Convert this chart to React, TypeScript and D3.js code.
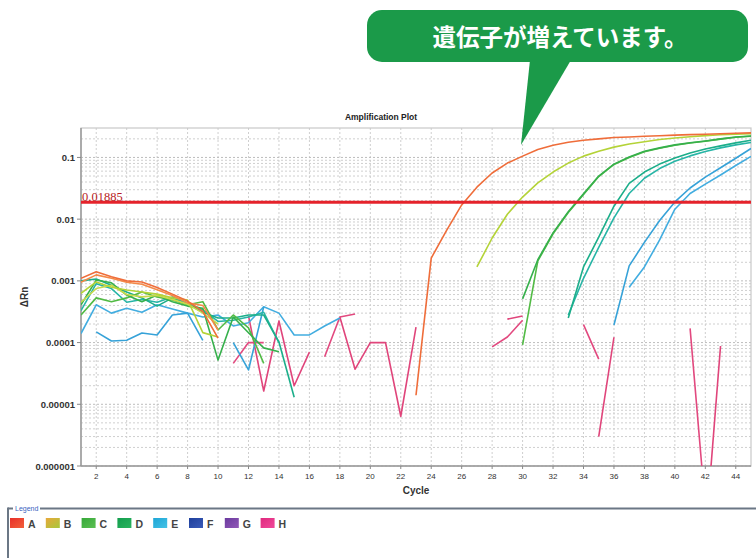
import React from "react";
import * as d3 from "d3";

const _ = null;
// cycles 1..45 (index 0 = cycle 1); null = not plotted (value <= 0)
const cycles = d3.range(1, 46);

const wellA1 = [0.0011, 0.00141, 0.00117, 0.001, 0.00096, 0.00078, 0.00061, 0.00047, 0.00032, 0.000118,
  _, _, _, _, _, _, _, _, _, _, _, _,
  1.4e-5, 0.00234, 0.0065, 0.017, 0.033, 0.056, 0.081, 0.105, 0.135, 0.158, 0.176, 0.19, 0.2, 0.21, 0.215,
  0.22, 0.225, 0.23, 0.234, 0.238, 0.242, 0.246, 0.25];
const wellA2 = [0.00095, 0.00125, 0.0011, 0.00095, 0.00088, 0.00072, 0.00058, 0.00044, 0.0004, 0.00016,
  _, _, _, _, _, _, _, _, _, _, _, _, _, _, _, _, _, _, _, _, _, _, _, _, _, _, _, _, _, _, _, _, _, _, _];
const wellB1 = [6.3e-4, 9.6e-4, 7.9e-4, 7.1e-4, 6.6e-4, 6.1e-4, 5.3e-4, 4.9e-4, 1.45e-4, 1.23e-4,
  _, _, _, _, _, _, _, _, _, _, _, _, _, _, _, _,
  0.00168, 0.00495, 0.012, 0.0228, 0.0386, 0.058, 0.081, 0.105, 0.126, 0.147, 0.165, 0.18, 0.195, 0.207,
  0.217, 0.226, 0.233, 0.238, 0.242];
const wellB2 = [4.5e-4, 7.5e-4, 8.5e-4, 6.0e-4, 5.5e-4, 5.8e-4, 5.0e-4, 4.2e-4, 3.0e-4, 2.0e-4,
  _, _, _, _, _, _, _, _, _, _, _, _, _, _, _, _, _, _, _, _, _, _, _, _, _, _, _, _, _, _, _, _, _, _, _];
const wellC1 = [4.1e-4, 1.03e-3, 9.3e-4, 5.9e-4, 4.6e-4, 5.9e-4, 4.6e-4, 3.9e-4, 3.6e-4, 5.2e-5,
  2.6e-4, 1.44e-4, 8.2e-5, 7.1e-5, _, _, _, _, _, _, _, _, _, _, _, _, _, _, _,
  5.1e-4, 0.0022, 0.006, 0.0132, 0.0257, 0.05, 0.078, 0.102, 0.126, 0.143, 0.16, 0.173, 0.185, 0.2, 0.215, 0.222];
const wellC2 = [2.8e-4, 5.3e-4, 4.6e-4, 5.3e-4, 6.6e-4, 5.5e-4, 4.9e-4, 4.1e-4, 4.6e-4, 1.6e-4,
  2.8e-4, 1.73e-4, 4.6e-5, _, _, _, _, _, _, _, _, _, _, _, _, _, _, _, _,
  9.2e-5, 0.0021, 0.0058, 0.0128, 0.025, 0.049, 0.077, 0.1, 0.124, 0.141, 0.158, 0.171, 0.183, 0.198, 0.212, 0.22];
const wellD1 = [1.0e-3, 1.07e-3, 8.5e-4, 6.6e-4, 5.3e-4, 3.9e-4, 5.3e-4, 4.2e-4, 3.1e-4, 2.5e-4,
  2.5e-4, 2.8e-4, 2.8e-4, 1.02e-4, 1.3e-5, _, _, _, _, _, _, _, _, _, _, _, _, _, _, _, _, _,
  2.5e-4, 0.00168, 0.0051, 0.0162, 0.038, 0.058, 0.078, 0.098, 0.118, 0.137, 0.154, 0.172, 0.19];
const wellD2 = [3.3e-4, 9.0e-4, 7.5e-4, 4.5e-4, 5.0e-4, 4.5e-4, 5.5e-4, 4.4e-4, 3.4e-4, 2.2e-4,
  2.3e-4, 2.6e-4, 3.1e-4, 1.0e-4, _, _, _, _, _, _, _, _, _, _, _, _, _, _, _, _, _, _,
  2.8e-4, 0.0011, 0.0035, 0.0105, 0.026, 0.046, 0.066, 0.087, 0.106, 0.125, 0.143, 0.16, 0.175];
const wellE1 = [_, 1.49e-4, 1.06e-4, 1.09e-4, 1.43e-4, 1.33e-4, 2.8e-4, 3.0e-4, 1.09e-4, _,
  1.0e-4, 3.6e-5, 3.8e-4, _, _, _, _, _, _, _, _, _, _, _, _, _, _, _, _, _, _, _, _, _, _,
  1.93e-4, 0.00175, 0.0042, 0.0095, 0.019, 0.032, 0.048, 0.068, 0.097, 0.14];
const wellE2 = [1.4e-4, 4.1e-4, 3.0e-4, 3.6e-4, 3.1e-4, 4.1e-4, 3.5e-4, 3.0e-4, 2.6e-4, 2.8e-4,
  1.86e-4, 2.1e-4, 3.8e-4, 3.0e-4, 1.33e-4, 1.33e-4, 1.86e-4, 2.5e-4, _, _, _, _, _, _, _, _, _, _, _, _, _, _, _, _, _, _,
  7.9e-4, 0.00168, 0.0046, 0.0145, 0.026, 0.037, 0.052, 0.074, 0.104];
const wellH1 = [_, _, _, _, _, _, _, _, _, _,
  4.6e-5, 1.0e-4, 1.0e-4, _, _, _, 5.9e-5, 2.6e-4, 2.9e-4, _, _, _, _, _, _, _, _,
  8.5e-5, 1.23e-4, 2.3e-4, _, _, _, 1.95e-4, 5.4e-5, _, _, _, _, _, 1.7e-4, 2.1e-7, _, _, _];
const wellH2 = [_, _, _, _, _, _, _, _, _, _, _,
  2.7e-4, 1.64e-5, 2.24e-4, 2.0e-5, 7.0e-5, _, 2.6e-4, 3.7e-5, 1.0e-4, 1.0e-4, 6.4e-6, 1.78e-4, _, _, _, _, _,
  2.4e-4, 2.7e-4, _, _, _, _, 3.0e-6, 1.22e-4, _, _, _, _, _, 6.8e-8, 8.8e-5, _, _];

const wellSeries = [
  { name: "H1", values: wellH1, color: "#e2497f" },
  { name: "H2", values: wellH2, color: "#e0457b" },
  { name: "E2", values: wellE2, color: "#42ade0" },
  { name: "E1", values: wellE1, color: "#36a2d8" },
  { name: "D2", values: wellD2, color: "#27b5a6" },
  { name: "D1", values: wellD1, color: "#1cae8a" },
  { name: "C2", values: wellC2, color: "#52bb45" },
  { name: "C1", values: wellC1, color: "#36b04c" },
  { name: "B2", values: wellB2, color: "#c9da4c" },
  { name: "B1", values: wellB1, color: "#b4d338" },
  { name: "A2", values: wellA2, color: "#f48a48" },
  { name: "A1", values: wellA1, color: "#ef6d3a" },
];

const threshold = 0.01885;
const yTicks = [0.1, 0.01, 0.001, 0.0001, 0.00001, 0.000001];
const yTickLabels = ["0.1", "0.01", "0.001", "0.0001", "0.00001", "0.000001"];
const xTicks = d3.range(2, 45, 2);

const legendLabels = ["A", "B", "C", "D", "E", "F", "G", "H"];
const legendColors = [
  ["#e8302a", "#f2603a"],
  ["#e8a83a", "#a8c83c"],
  ["#36a83a", "#5cc052"],
  ["#139e4e", "#2bb35e"],
  ["#1ea6d6", "#45c2e6"],
  ["#1e3f9c", "#3a5bb8"],
  ["#6a3a9e", "#9258b8"],
  ["#e0287e", "#f04a9a"],
];

export default function App() {
  const left = 81, right = 751, top = 128, bottom = 466;
  const x = d3.scaleLinear().domain([1, 45]).range([left, right]);
  const y = d3.scaleLog().domain([1e-6, 0.3]).range([bottom, top]);

  const minorGrid: number[] = [];
  for (let e = -6; e <= -1; e++) {
    for (let k = 2; k <= 9; k++) {
      const v = k * Math.pow(10, e);
      if (v < 0.3) minorGrid.push(v);
    }
  }

  const line = d3
    .line<[number, number | null]>()
    .defined((d) => d[1] != null && (d[1] as number) > 0)
    .x((d) => x(d[0]))
    .y((d) => y(d[1] as number));

  const ty = y(threshold);

  return (
    <svg width={756} height={558} style={{ position: "absolute", left: 0, top: 0, background: "#fff" }}
      fontFamily="'Liberation Sans', Arial, sans-serif">
      <defs>
        <clipPath id="plotClip">
          <rect x={left} y={top} width={right - left} height={bottom - top} />
        </clipPath>
        {legendColors.map((c, i) => (
          <linearGradient key={i} id={`lg${i}`} x1="0" y1="0" x2="1" y2="1">
            <stop offset="0" stopColor={c[0]} />
            <stop offset="1" stopColor={c[1]} />
          </linearGradient>
        ))}
      </defs>

      {/* title */}
      <text x={381} y={120} textAnchor="middle" fontSize={8.5} fontWeight="bold" fill="#222">Amplification Plot</text>

      {/* grid */}
      <g stroke="#cfcfcf" strokeWidth={1} strokeDasharray="2,2">
        {minorGrid.map((v, i) => (
          <line key={"m" + i} x1={left} x2={right} y1={y(v)} y2={y(v)} />
        ))}
        {xTicks.map((c) => (
          <line key={"v" + c} x1={x(c)} x2={x(c)} y1={top} y2={bottom} />
        ))}
      </g>
      <g stroke="#bdbdbd" strokeWidth={1} strokeDasharray="2,2">
        {yTicks.map((v) => (
          <line key={"M" + v} x1={left} x2={right} y1={y(v)} y2={y(v)} />
        ))}
      </g>

      {/* frame */}
      <rect x={left} y={top} width={right - left} height={bottom - top} fill="none" stroke="#c8c8c8" strokeWidth={1.2} />
      <line x1={left} x2={left} y1={top} y2={bottom} stroke="#9a9a9a" strokeWidth={1.5} />
      <line x1={left} x2={right} y1={bottom} y2={bottom} stroke="#9a9a9a" strokeWidth={1.5} />

      {/* curves */}
      <g clipPath="url(#plotClip)" fill="none" strokeWidth={1.6} strokeLinejoin="round">
        {wellSeries.map((s) => (
          <path key={s.name} d={line(cycles.map((c, i) => [c, s.values[i]] as [number, number | null])) || ""} stroke={s.color} />
        ))}
      </g>

      {/* threshold */}
      <line x1={left} x2={right} y1={ty} y2={ty} stroke="#e5232b" strokeWidth={3} />
      <text x={82} y={ty - 1.5} fontFamily="'Liberation Serif', 'DejaVu Serif', serif" fontSize={12.5} fill="#b81c24">0.01885</text>

      {/* y axis */}
      {yTicks.map((v, i) => (
        <g key={"yt" + v}>
          <line x1={left - 4} x2={left} y1={y(v)} y2={y(v)} stroke="#888" />
          <text x={left - 6} y={y(v) + 3.5} textAnchor="end" fontSize={9.5} fontWeight="bold" fill="#333">{yTickLabels[i]}</text>
        </g>
      ))}
      <text transform={`translate(28,297) rotate(-90)`} textAnchor="middle" fontSize={10} fontWeight="bold" fill="#333">ΔRn</text>

      {/* x axis */}
      {xTicks.map((c) => (
        <g key={"xt" + c}>
          <line x1={x(c)} x2={x(c)} y1={bottom} y2={bottom + 3} stroke="#888" />
          <text x={x(c)} y={bottom + 13} textAnchor="middle" fontSize={8} fill="#333">{c}</text>
        </g>
      ))}
      <text x={416} y={494} textAnchor="middle" fontSize={10} fontWeight="bold" fill="#333">Cycle</text>

      {/* legend */}
      <g>
        <line x1={8} x2={13} y1={508.5} y2={508.5} stroke="#6b7785" strokeWidth={2} />
        <line x1={40} x2={756} y1={508.5} y2={508.5} stroke="#6b7785" strokeWidth={2} />
        <line x1={8} x2={8} y1={507.5} y2={558} stroke="#6b7785" strokeWidth={2} />
        <text x={15} y={511} fontSize={7} fill="#3a62c0">Legend</text>
        {legendLabels.map((l, i) => (
          <g key={l}>
            <rect x={10 + i * 35.8} y={518} width={14} height={10} fill={`url(#lg${i})`} />
            <text x={28 + i * 35.8} y={527.5} fontSize={10.5} fontWeight="bold" fill="#444">{l}</text>
          </g>
        ))}
      </g>

      {/* callout */}
      <g>
        <rect x={367} y={10} width={381} height={52} rx={15} fill="#1b9a49" />
        <polygon points="530,60 571,60 521,145" fill="#1b9a49" />
        <text x={560} y={46} textAnchor="middle" fontSize={23.5} fontWeight="bold" fill="#fff"
          fontFamily="'Noto Sans CJK JP', 'Noto Sans', sans-serif">遺伝子が増えています。</text>
      </g>
    </svg>
  );
}
